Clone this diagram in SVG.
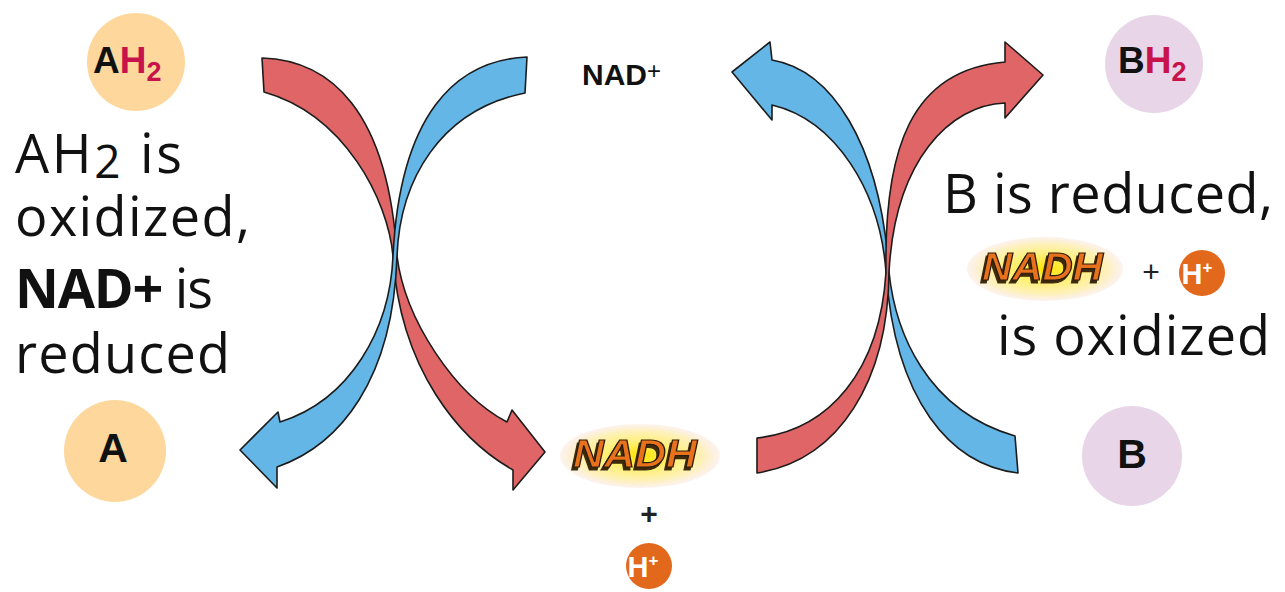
<svg xmlns="http://www.w3.org/2000/svg" width="1285" height="592" viewBox="0 0 1285 592">
  <defs>
    <radialGradient id="glow" cx="50%" cy="50%" r="50%">
      <stop offset="0" stop-color="#ffe400"/>
      <stop offset="0.45" stop-color="#fff07a"/>
      <stop offset="0.8" stop-color="#fdf1bd"/>
      <stop offset="1" stop-color="#fbe7dc" stop-opacity="0.5"/>
    </radialGradient>
    <!-- dark offset shadow behind the NADH lettering -->
    <filter id="nadh-shadow" x="-10%" y="-20%" width="120%" height="150%">
      <feFlood flood-color="#3d2a10"/>
      <feComposite in2="SourceAlpha" operator="in"/>
      <feOffset dx="-2" dy="3" result="shadow"/>
      <feMerge>
        <feMergeNode in="shadow"/>
        <feMergeNode in="SourceGraphic"/>
      </feMerge>
    </filter>
    <style>
      .arrow-red { fill: #e06566; stroke: #1c1c1c; stroke-width: 1.6; stroke-linejoin: round; }
      .arrow-blue { fill: #63b6e6; stroke: #1c1c1c; stroke-width: 1.6; stroke-linejoin: round; }
      .peach { fill: #fdd79c; }
      .lilac { fill: #e8d6e8; }
      .label { font-family: "Open Sans", "Liberation Sans", sans-serif; font-size: 54px; fill: #111; }
      .chem { font-family: "Liberation Sans", Arial, sans-serif; font-weight: bold; fill: #111; }
      .hred { fill: #c8124c; }
      .nadh { font-family: "Liberation Sans", Arial, sans-serif; font-weight: bold; font-style: italic; font-size: 38px;
              fill: #e8711e; stroke: #2a1a08; stroke-width: 1.2; filter: url(#nadh-shadow); }
      .proton { fill: #e2681c; }
      .proton-txt { font-family: "Liberation Sans", Arial, sans-serif; font-weight: bold; fill: #fff; }
      .plus { font-family: "Liberation Sans", Arial, sans-serif; fill: #222; }
    </style>
  </defs>

  <rect width="1285" height="592" fill="#fff"/>

  <!-- curved reaction arrows -->
  <g id="connectors">
    <!-- left pair: AH2 -> NADH (red), NAD+ -> A (blue) -->
    <path id="arrow-ah2-nadh" class="arrow-red"
          d="M262,58 C330,60 388,110 397,256 C405,320 455,395 507,422 L512,410 L545,452 L513,490 L513,470 C460,440 400,370 393,256 C388,200 345,115 264,92 Z"/>
    <path id="arrow-nad-a" class="arrow-blue"
          d="M527,57 C455,60 400,115 393,256 C390,330 350,400 280,422 L278,412 L240,450 L277,488 L277,467 C340,445 393,380 397,256 C400,180 440,110 525,93 Z"/>
    <!-- right pair: B -> NAD+ (blue), NADH -> BH2 (red) -->
    <path id="arrow-b-nad" class="arrow-blue"
          d="M732,72 L770,42 L772,60 C830,70 880,140 889,272 C895,330 925,410 1015,436 L1018,473 C950,465 895,400 886,272 C880,190 835,120 772,105 L772,120 Z"/>
    <path id="arrow-nadh-bh2" class="arrow-red"
          d="M1043,75 L1005,118 L1005,103 C950,105 895,160 889,272 C888,380 840,460 757,473 L757,438 C830,430 880,370 886,272 C884,150 910,70 1005,62 L1005,42 Z"/>
  </g>

  <g id="node-ah2">
    <circle class="peach" cx="136" cy="62" r="49"/>
    <text class="chem" x="93" y="73" font-size="37">A<tspan class="hred">H</tspan><tspan class="hred" font-size="27" dy="8">2</tspan></text>
  </g>

  <g id="node-a">
    <circle class="peach" cx="115" cy="451" r="51"/>
    <text class="chem" x="113" y="462" font-size="41" text-anchor="middle">A</text>
  </g>

  <g id="node-bh2">
    <circle class="lilac" cx="1154" cy="64" r="49"/>
    <text class="chem" x="1118" y="73" font-size="37">B<tspan class="hred">H</tspan><tspan class="hred" font-size="27" dy="8">2</tspan></text>
  </g>

  <g id="node-b">
    <circle class="lilac" cx="1132" cy="456" r="50"/>
    <text class="chem" x="1132" y="468" font-size="41" text-anchor="middle">B</text>
  </g>

  <g id="node-nad">
    <text class="chem" x="582" y="85" font-size="30">NAD<tspan font-weight="normal" font-size="24" dy="-6">+</tspan></text>
  </g>

  <g id="node-nadh-center">
    <ellipse cx="640" cy="456" rx="80" ry="32" fill="url(#glow)"/>
    <text class="nadh" x="573" y="467" textLength="124" lengthAdjust="spacingAndGlyphs">NADH</text>
    <text class="plus" x="649" y="524" font-size="30" font-weight="bold" text-anchor="middle">+</text>
    <circle class="proton" cx="649" cy="566" r="23"/>
    <text class="proton-txt" x="643" y="577" font-size="29" text-anchor="middle">H<tspan font-size="17" dy="-11">+</tspan></text>
  </g>

  <g id="node-nadh-right">
    <ellipse cx="1045" cy="269" rx="78" ry="32" fill="url(#glow)"/>
    <text class="nadh" x="982" y="280" textLength="121" lengthAdjust="spacingAndGlyphs">NADH</text>
    <text class="plus" x="1151" y="282" font-size="30" text-anchor="middle">+</text>
    <circle class="proton" cx="1202" cy="273" r="23"/>
    <text class="proton-txt" x="1197" y="284" font-size="29" text-anchor="middle">H<tspan font-size="17" dy="-11">+</tspan></text>
  </g>

  <g id="caption-left">
    <text class="label" x="15" y="173" textLength="167" lengthAdjust="spacing">AH<tspan font-size="46" dy="5">2</tspan><tspan dy="-5"> is</tspan></text>
    <text class="label" x="15" y="236" textLength="235" lengthAdjust="spacing">oxidized,</text>
    <text class="label" x="15" y="308" textLength="198" lengthAdjust="spacing"><tspan font-weight="bold">NAD+</tspan> is</text>
    <text class="label" x="15" y="373" textLength="215" lengthAdjust="spacing">reduced</text>
  </g>

  <g id="caption-right">
    <text class="label" x="943" y="213" textLength="330" lengthAdjust="spacing">B is reduced,</text>
    <text class="label" x="997" y="355" textLength="273" lengthAdjust="spacing">is oxidized</text>
  </g>
</svg>
